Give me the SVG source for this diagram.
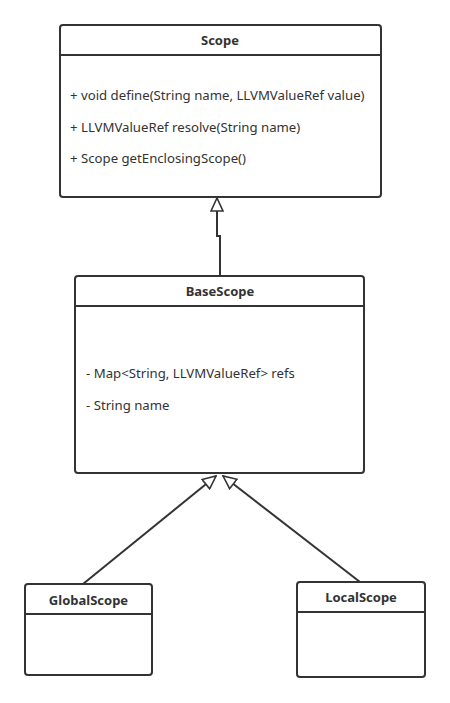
<svg xmlns="http://www.w3.org/2000/svg" width="450" height="703" viewBox="0 0 450 703">
<style>
.box{fill:#fff;stroke:#333;stroke-width:2}
.div{stroke:#333;stroke-width:2}
.t{font-family:"Noto Sans","Open Sans",sans-serif;font-size:13px;font-weight:bold;fill:#333;text-anchor:middle;dominant-baseline:central}
.m{font-family:"Noto Sans","Open Sans",sans-serif;font-size:13.2px;fill:#333;dominant-baseline:central}
.edge{fill:none;stroke:#333;stroke-width:2}
</style>
<defs>
<marker id="tri" viewBox="0 0 15 14" refX="14" refY="7" markerWidth="15" markerHeight="14" markerUnits="userSpaceOnUse" orient="auto">
<path d="M1,1 L14,7 L1,13 Z" fill="#fff" stroke="#333" stroke-width="1.6"/>
</marker>
</defs>
<rect width="450" height="703" fill="#fff"/>
<g id="edges">
<path class="edge" d="M220,276 L220,236 L217,236 L217,198" marker-end="url(#tri)"/>
<path class="edge" d="M83,584 L216,476" marker-end="url(#tri)"/>
<path class="edge" d="M360,582 L223,476" marker-end="url(#tri)"/>
</g>
<g id="Scope">
<rect class="box" x="60" y="25" width="321" height="172" rx="3"/>
<line class="div" x1="60" y1="55" x2="381" y2="55"/>
<text class="t" x="220" y="40">Scope</text>
<text class="m" x="70" y="95">+ void define(String name, LLVMValueRef value)</text>
<text class="m" x="70" y="127">+ LLVMValueRef resolve(String name)</text>
<text class="m" x="70" y="158">+ Scope getEnclosingScope()</text>
</g>
<g id="BaseScope">
<rect class="box" x="75" y="276" width="289" height="197" rx="3"/>
<line class="div" x1="75" y1="306" x2="364" y2="306"/>
<text class="t" x="220" y="291">BaseScope</text>
<text class="m" x="86" y="373">- Map&lt;String, LLVMValueRef&gt; refs</text>
<text class="m" x="86" y="405">- String name</text>
</g>
<g id="GlobalScope">
<rect class="box" x="25" y="584" width="127" height="91" rx="3"/>
<line class="div" x1="25" y1="614" x2="152" y2="614"/>
<text class="t" x="88.5" y="600">GlobalScope</text>
</g>
<g id="LocalScope">
<rect class="box" x="297" y="582" width="128" height="95" rx="3"/>
<line class="div" x1="297" y1="612" x2="425" y2="612"/>
<text class="t" x="361" y="597">LocalScope</text>
</g>
</svg>
